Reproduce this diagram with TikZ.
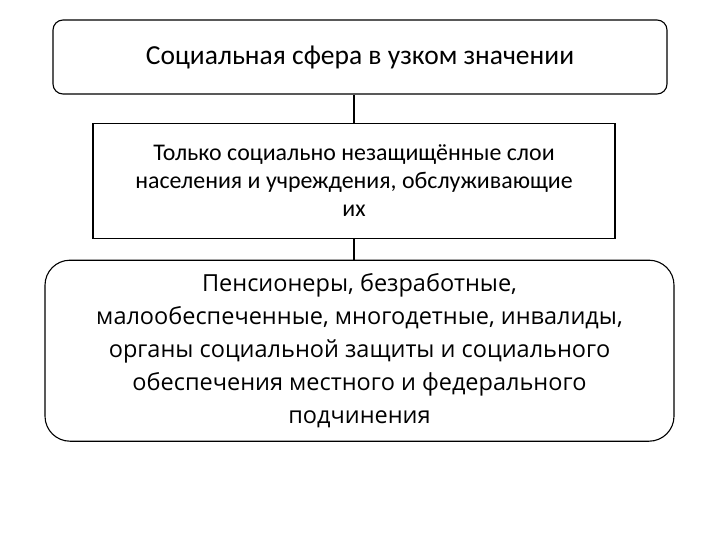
\documentclass[tikz,border=0pt]{standalone}
\usepackage{fontspec}
\setmainfont{Carlito}
\newfontfamily\groupfont{Open Sans}
\usetikzlibrary{positioning}

\begin{document}
\begin{tikzpicture}[x=1pt,y=-1pt,line width=1.1pt,
    sphere/.style={draw,rounded corners=10pt,minimum width=614pt,minimum height=74pt,font=\fontsize{27.5}{32}\selectfont},
    layer/.style={draw,minimum width=522pt,minimum height=115pt,align=center,font=\fontsize{23.9}{27.5}\selectfont},
    groups/.style={draw,rounded corners=25pt,minimum width=629pt,minimum height=181pt,align=center,font=\groupfont\fontsize{23.5}{33}\selectfont}]
    \useasboundingbox (0,0) rectangle (720,540);
    \node[sphere] (narrow) at (360,57) {Социальная сфера в узком значении};
    \node[layer] (unprotected) [below=28pt of narrow,xshift=-6pt]
      {Только социально незащищённые слои\\населения и учреждения, обслуживающие\\их};
    \node[groups] (people) [below=21pt of unprotected,xshift=5.5pt]
      {Пенсионеры, безработные,\\малообеспеченные, многодетные, инвалиды,\\органы социальной защиты и социального\\обеспечения местного и федерального\\подчинения};
    \draw (unprotected.north) -- (unprotected.north |- narrow.south);
    \draw (unprotected.south) -- (unprotected.south |- people.north);
  \end{tikzpicture}
\end{document}
